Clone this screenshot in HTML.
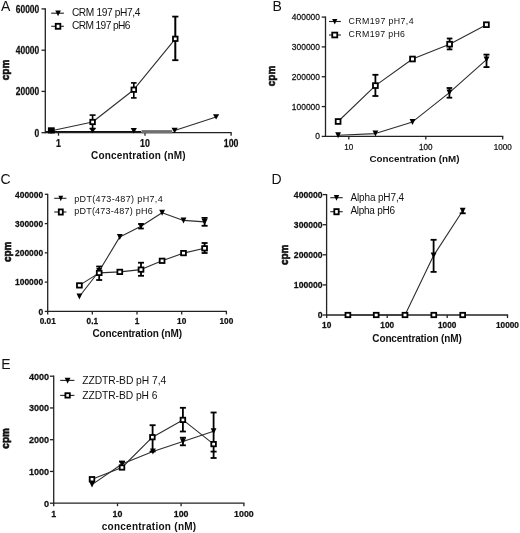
<!DOCTYPE html><html><head><meta charset="utf-8"><style>html,body{margin:0;padding:0;background:#fff;}svg{display:block;filter:grayscale(1);}text{font-family:"Liberation Sans", sans-serif;fill:#111;}</style></head><body>
<svg width="520" height="533" viewBox="0 0 520 533">
<rect width="520" height="533" fill="#fff"/>
<text x="1" y="10.7" font-size="14">A</text>
<line x1="45.3" y1="8.3" x2="45.3" y2="133.3" stroke="#222" stroke-width="1.3"/>
<line x1="41.5" y1="8.9" x2="45.3" y2="8.9" stroke="#222" stroke-width="1.3"/>
<text font-size="10" font-weight="bold" text-anchor="end" stroke="#111" stroke-width="0.25" transform="translate(39.25 12.80) scale(0.844 1)">60000</text>
<line x1="41.5" y1="50.2" x2="45.3" y2="50.2" stroke="#222" stroke-width="1.3"/>
<text font-size="10" font-weight="bold" text-anchor="end" stroke="#111" stroke-width="0.25" transform="translate(39.25 54.10) scale(0.844 1)">40000</text>
<line x1="41.5" y1="91.4" x2="45.3" y2="91.4" stroke="#222" stroke-width="1.3"/>
<text font-size="10" font-weight="bold" text-anchor="end" stroke="#111" stroke-width="0.25" transform="translate(39.25 95.30) scale(0.844 1)">20000</text>
<line x1="41.5" y1="132.7" x2="45.3" y2="132.7" stroke="#222" stroke-width="1.3"/>
<text font-size="10" font-weight="bold" text-anchor="end" stroke="#111" stroke-width="0.25" transform="translate(39.25 136.60) scale(0.851 1)">0</text>
<line x1="45.3" y1="131.9" x2="141" y2="131.9" stroke="#111" stroke-width="2"/>
<line x1="45.3" y1="132.7" x2="231.7" y2="132.7" stroke="#222" stroke-width="1.3"/>
<line x1="58.5" y1="132.7" x2="58.5" y2="135.7" stroke="#222" stroke-width="1.3"/>
<text font-size="10" font-weight="bold" text-anchor="middle" stroke="#111" stroke-width="0.25" transform="translate(58.5 147.00) scale(0.887 1)">1</text>
<line x1="145" y1="132.7" x2="145" y2="135.7" stroke="#222" stroke-width="1.3"/>
<text font-size="10" font-weight="bold" text-anchor="middle" stroke="#111" stroke-width="0.25" transform="translate(145 147.00) scale(0.882 1)">10</text>
<line x1="231.1" y1="132.7" x2="231.1" y2="135.7" stroke="#222" stroke-width="1.3"/>
<text font-size="10" font-weight="bold" text-anchor="middle" stroke="#111" stroke-width="0.25" transform="translate(231.1 147.00) scale(0.881 1)">100</text>
<rect x="141.5" y="130.1" width="30.7" height="3.2" fill="#707070"/>
<text x="91" y="158.8" font-size="10" font-weight="bold" textLength="94.5" lengthAdjust="spacing">Concentration (nM)</text>
<text x="9.2" y="70" font-size="10" font-weight="bold" text-anchor="middle" transform="rotate(-90 9.2 70)" stroke="#111" stroke-width="0.6">cpm</text>
<line x1="51.2" y1="13.2" x2="63.9" y2="13.2" stroke="#222" stroke-width="1.1"/>
<polygon points="55.25,10.60 60.85,10.60 58.05,16.20" fill="#000"/>
<text x="71.9" y="16.2" font-size="10.2" textLength="68.5" lengthAdjust="spacing">CRM 197 pH7,4</text>
<line x1="51.2" y1="26.3" x2="63.9" y2="26.3" stroke="#222" stroke-width="1.1"/>
<rect x="55.75" y="23.80" width="4.60" height="5.00" fill="#fff" stroke="#000" stroke-width="1.8"/>
<text x="71.9" y="29.1" font-size="10.2" textLength="58.5" lengthAdjust="spacing">CRM 197 pH6</text>
<polyline points="51.40,130.70 92.60,122.00 133.80,89.70 175.30,38.80" fill="none" stroke="#2e2e2e" stroke-width="1.1" stroke-linejoin="round"/>
<line x1="92.6" y1="115.1" x2="92.6" y2="128.5" stroke="#000" stroke-width="1.6"/>
<line x1="89.6" y1="115.1" x2="95.6" y2="115.1" stroke="#000" stroke-width="1.6"/>
<line x1="89.6" y1="128.5" x2="95.6" y2="128.5" stroke="#000" stroke-width="1.6"/>
<line x1="133.8" y1="82.9" x2="133.8" y2="97.9" stroke="#000" stroke-width="1.6"/>
<line x1="131" y1="82.9" x2="136.6" y2="82.9" stroke="#000" stroke-width="1.6"/>
<line x1="131" y1="97.9" x2="136.6" y2="97.9" stroke="#000" stroke-width="1.6"/>
<line x1="175.3" y1="16.6" x2="175.3" y2="60.2" stroke="#000" stroke-width="2"/>
<line x1="172.2" y1="16.6" x2="178.4" y2="16.6" stroke="#000" stroke-width="1.8"/>
<line x1="172.2" y1="60.2" x2="178.4" y2="60.2" stroke="#000" stroke-width="1.8"/>
<polyline points="174.60,130.50 216.10,116.90" fill="none" stroke="#2e2e2e" stroke-width="1.1" stroke-linejoin="round"/>
<polygon points="48.30,128.30 54.50,128.30 51.40,133.70" fill="#000"/>
<polygon points="89.50,127.90 95.70,127.90 92.60,133.30" fill="#000"/>
<polygon points="130.70,128.00 136.90,128.00 133.80,133.40" fill="#000"/>
<polygon points="171.50,127.80 177.70,127.80 174.60,133.20" fill="#000"/>
<polygon points="213.00,114.20 219.20,114.20 216.10,119.60" fill="#000"/>
<rect x="90.30" y="119.80" width="4.60" height="4.40" fill="#fff" stroke="#000" stroke-width="1.8"/>
<rect x="131.50" y="87.50" width="4.60" height="4.40" fill="#fff" stroke="#000" stroke-width="1.8"/>
<rect x="173.00" y="36.60" width="4.60" height="4.40" fill="#fff" stroke="#000" stroke-width="1.8"/>
<rect x="47.9" y="127.3" width="6.8" height="6.2" fill="#000"/>
<text x="272.6" y="10.7" font-size="14">B</text>
<line x1="325.5" y1="16.5" x2="325.5" y2="137" stroke="#222" stroke-width="1.3"/>
<line x1="321.7" y1="17.08" x2="325.5" y2="17.08" stroke="#222" stroke-width="1.3"/>
<text font-size="9" text-anchor="end" stroke="#111" stroke-width="0.25" transform="translate(319.95 20.08) scale(0.937 1)">400000</text>
<line x1="321.7" y1="46.91" x2="325.5" y2="46.91" stroke="#222" stroke-width="1.3"/>
<text font-size="9" text-anchor="end" stroke="#111" stroke-width="0.25" transform="translate(319.95 49.91) scale(0.937 1)">300000</text>
<line x1="321.7" y1="76.74" x2="325.5" y2="76.74" stroke="#222" stroke-width="1.3"/>
<text font-size="9" text-anchor="end" stroke="#111" stroke-width="0.25" transform="translate(319.95 79.74) scale(0.937 1)">200000</text>
<line x1="321.7" y1="106.57" x2="325.5" y2="106.57" stroke="#222" stroke-width="1.3"/>
<text font-size="9" text-anchor="end" stroke="#111" stroke-width="0.25" transform="translate(319.95 109.57) scale(0.937 1)">100000</text>
<line x1="321.7" y1="136.4" x2="325.5" y2="136.4" stroke="#222" stroke-width="1.3"/>
<text font-size="9" text-anchor="end" stroke="#111" stroke-width="0.25" transform="translate(319.95 139.40) scale(0.945 1)">0</text>
<line x1="325.5" y1="136.4" x2="503.3" y2="136.4" stroke="#222" stroke-width="1.3"/>
<line x1="348.8" y1="136.4" x2="348.8" y2="139.4" stroke="#222" stroke-width="1.3"/>
<text font-size="9" text-anchor="middle" stroke="#111" stroke-width="0.25" transform="translate(348.8 149.50) scale(0.900 1)">10</text>
<line x1="425.8" y1="136.4" x2="425.8" y2="139.4" stroke="#222" stroke-width="1.3"/>
<text font-size="9" text-anchor="middle" stroke="#111" stroke-width="0.25" transform="translate(425.8 149.50) scale(0.899 1)">100</text>
<line x1="502.7" y1="136.4" x2="502.7" y2="139.4" stroke="#222" stroke-width="1.3"/>
<text font-size="9" text-anchor="middle" stroke="#111" stroke-width="0.25" transform="translate(502.7 149.50) scale(0.898 1)">1000</text>
<text x="369.5" y="162.2" font-size="9.8" font-weight="bold" textLength="90" lengthAdjust="spacing">Concentration (nM)</text>
<text x="274.6" y="76" font-size="10" font-weight="bold" text-anchor="middle" transform="rotate(-90 274.6 76)" stroke="#111" stroke-width="0.6">cpm</text>
<line x1="329" y1="21.5" x2="340.9" y2="21.5" stroke="#222" stroke-width="1.1"/>
<polygon points="332.15,19.00 337.35,19.00 334.75,24.40" fill="#000"/>
<text x="348.6" y="23.8" font-size="8.8" textLength="65" lengthAdjust="spacing">CRM197 pH7,4</text>
<line x1="329" y1="35" x2="340.9" y2="35" stroke="#222" stroke-width="1.1"/>
<rect x="332.25" y="32.60" width="5.00" height="4.80" fill="#fff" stroke="#000" stroke-width="1.8"/>
<text x="348.6" y="36.8" font-size="8.8" textLength="56.4" lengthAdjust="spacing">CRM197 pH6</text>
<polyline points="338.10,121.50 375.40,85.60 412.50,59.00 449.60,44.20 486.40,24.70" fill="none" stroke="#2e2e2e" stroke-width="1.1" stroke-linejoin="round"/>
<polyline points="338.10,135.20 375.40,133.60 412.50,121.90 449.40,92.60 486.50,59.60" fill="none" stroke="#2e2e2e" stroke-width="1.1" stroke-linejoin="round"/>
<line x1="375.4" y1="74.8" x2="375.4" y2="96" stroke="#000" stroke-width="1.8"/>
<line x1="372.4" y1="74.8" x2="378.4" y2="74.8" stroke="#000" stroke-width="1.8"/>
<line x1="372.4" y1="96" x2="378.4" y2="96" stroke="#000" stroke-width="1.8"/>
<line x1="449.6" y1="38.5" x2="449.6" y2="49.4" stroke="#000" stroke-width="1.8"/>
<line x1="446.8" y1="38.5" x2="452.4" y2="38.5" stroke="#000" stroke-width="1.8"/>
<line x1="446.8" y1="49.4" x2="452.4" y2="49.4" stroke="#000" stroke-width="1.8"/>
<line x1="449.4" y1="88" x2="449.4" y2="97.7" stroke="#000" stroke-width="1.8"/>
<line x1="446.6" y1="88" x2="452.2" y2="88" stroke="#000" stroke-width="1.8"/>
<line x1="446.6" y1="97.7" x2="452.2" y2="97.7" stroke="#000" stroke-width="1.8"/>
<line x1="486.5" y1="54.6" x2="486.5" y2="67.1" stroke="#000" stroke-width="1.8"/>
<line x1="483.5" y1="54.6" x2="489.5" y2="54.6" stroke="#000" stroke-width="1.8"/>
<line x1="483.5" y1="67.1" x2="489.5" y2="67.1" stroke="#000" stroke-width="1.8"/>
<polygon points="335.20,132.20 341.00,132.20 338.10,138.20" fill="#000"/>
<polygon points="372.50,130.60 378.30,130.60 375.40,136.60" fill="#000"/>
<polygon points="409.60,118.90 415.40,118.90 412.50,124.90" fill="#000"/>
<polygon points="446.50,89.60 452.30,89.60 449.40,95.60" fill="#000"/>
<polygon points="483.60,56.60 489.40,56.60 486.50,62.60" fill="#000"/>
<rect x="335.70" y="119.10" width="4.80" height="4.80" fill="#fff" stroke="#000" stroke-width="1.8"/>
<rect x="373.00" y="83.20" width="4.80" height="4.80" fill="#fff" stroke="#000" stroke-width="1.8"/>
<rect x="410.10" y="56.60" width="4.80" height="4.80" fill="#fff" stroke="#000" stroke-width="1.8"/>
<rect x="447.20" y="41.80" width="4.80" height="4.80" fill="#fff" stroke="#000" stroke-width="1.8"/>
<rect x="484.00" y="22.30" width="4.80" height="4.80" fill="#fff" stroke="#000" stroke-width="1.8"/>
<text x="0.4" y="183.9" font-size="14">C</text>
<line x1="47.7" y1="193.7" x2="47.7" y2="312" stroke="#222" stroke-width="1.3"/>
<line x1="44.8" y1="194.32" x2="47.7" y2="194.32" stroke="#222" stroke-width="1.3"/>
<text font-size="9" font-weight="bold" text-anchor="end" stroke="#111" stroke-width="0.25" transform="translate(43.15 197.54) scale(0.937 1)">400000</text>
<line x1="44.8" y1="223.59" x2="47.7" y2="223.59" stroke="#222" stroke-width="1.3"/>
<text font-size="9" font-weight="bold" text-anchor="end" stroke="#111" stroke-width="0.25" transform="translate(43.15 226.81) scale(0.937 1)">300000</text>
<line x1="44.8" y1="252.86" x2="47.7" y2="252.86" stroke="#222" stroke-width="1.3"/>
<text font-size="9" font-weight="bold" text-anchor="end" stroke="#111" stroke-width="0.25" transform="translate(43.15 256.08) scale(0.937 1)">200000</text>
<line x1="44.8" y1="282.13" x2="47.7" y2="282.13" stroke="#222" stroke-width="1.3"/>
<text font-size="9" font-weight="bold" text-anchor="end" stroke="#111" stroke-width="0.25" transform="translate(43.15 285.35) scale(0.937 1)">100000</text>
<line x1="44.8" y1="311.4" x2="47.7" y2="311.4" stroke="#222" stroke-width="1.3"/>
<text font-size="9" font-weight="bold" text-anchor="end" stroke="#111" stroke-width="0.25" transform="translate(43.15 314.62) scale(0.945 1)">0</text>
<line x1="47.7" y1="311.4" x2="227" y2="311.4" stroke="#222" stroke-width="1.3"/>
<line x1="47.7" y1="311.4" x2="47.7" y2="314.4" stroke="#222" stroke-width="1.3"/>
<text font-size="8.6" font-weight="bold" text-anchor="middle" stroke="#111" stroke-width="0.25" transform="translate(47.7 323.90) scale(0.961 1)">0.01</text>
<line x1="92.3" y1="311.4" x2="92.3" y2="314.4" stroke="#222" stroke-width="1.3"/>
<text font-size="8.6" font-weight="bold" text-anchor="middle" stroke="#111" stroke-width="0.25" transform="translate(92.3 323.90) scale(0.962 1)">0.1</text>
<line x1="137" y1="311.4" x2="137" y2="314.4" stroke="#222" stroke-width="1.3"/>
<text font-size="8.6" font-weight="bold" text-anchor="middle" stroke="#111" stroke-width="0.25" transform="translate(137 323.90) scale(0.968 1)">1</text>
<line x1="181.7" y1="311.4" x2="181.7" y2="314.4" stroke="#222" stroke-width="1.3"/>
<text font-size="8.6" font-weight="bold" text-anchor="middle" stroke="#111" stroke-width="0.25" transform="translate(181.7 323.90) scale(0.963 1)">10</text>
<line x1="226.4" y1="311.4" x2="226.4" y2="314.4" stroke="#222" stroke-width="1.3"/>
<text font-size="8.6" font-weight="bold" text-anchor="middle" stroke="#111" stroke-width="0.25" transform="translate(226.4 323.90) scale(0.961 1)">100</text>
<text x="92.5" y="336.8" font-size="10" font-weight="bold" textLength="89.5" lengthAdjust="spacing">Concentration (nM)</text>
<text x="11" y="251.8" font-size="10" font-weight="bold" text-anchor="middle" transform="rotate(-90 11 251.8)" stroke="#111" stroke-width="0.6">cpm</text>
<line x1="54.2" y1="198.3" x2="66.4" y2="198.3" stroke="#222" stroke-width="1.1"/>
<polygon points="58.40,195.70 63.20,195.70 60.80,201.30" fill="#000"/>
<text x="74.2" y="201.6" font-size="9" textLength="88.5" lengthAdjust="spacing">pDT(473-487) pH7,4</text>
<line x1="54.2" y1="212" x2="66.4" y2="212" stroke="#222" stroke-width="1.1"/>
<rect x="58.80" y="209.40" width="4.00" height="5.20" fill="#fff" stroke="#000" stroke-width="1.8"/>
<text x="74.2" y="214.3" font-size="9" textLength="78.5" lengthAdjust="spacing">pDT(473-487) pH6</text>
<polyline points="79.40,285.40 99.20,272.90 119.80,271.90 141.00,269.60 162.10,260.80 183.50,253.10 204.60,248.30" fill="none" stroke="#2e2e2e" stroke-width="1.1" stroke-linejoin="round"/>
<polyline points="79.40,296.50 99.20,271.00 119.80,236.90 141.00,226.20 162.10,212.70 183.50,220.40 204.60,221.90" fill="none" stroke="#2e2e2e" stroke-width="1.1" stroke-linejoin="round"/>
<line x1="99.2" y1="266.5" x2="99.2" y2="280" stroke="#000" stroke-width="1.8"/>
<line x1="96.2" y1="266.5" x2="102.2" y2="266.5" stroke="#000" stroke-width="1.8"/>
<line x1="96.2" y1="280" x2="102.2" y2="280" stroke="#000" stroke-width="1.8"/>
<line x1="141" y1="262.7" x2="141" y2="275.8" stroke="#000" stroke-width="1.8"/>
<line x1="138" y1="262.7" x2="144" y2="262.7" stroke="#000" stroke-width="1.8"/>
<line x1="138" y1="275.8" x2="144" y2="275.8" stroke="#000" stroke-width="1.8"/>
<line x1="141" y1="224" x2="141" y2="228.5" stroke="#000" stroke-width="1.8"/>
<line x1="138.2" y1="224" x2="143.8" y2="224" stroke="#000" stroke-width="1.8"/>
<line x1="138.2" y1="228.5" x2="143.8" y2="228.5" stroke="#000" stroke-width="1.8"/>
<line x1="204.6" y1="217.9" x2="204.6" y2="225.8" stroke="#000" stroke-width="1.8"/>
<line x1="201.6" y1="217.9" x2="207.6" y2="217.9" stroke="#000" stroke-width="1.8"/>
<line x1="201.6" y1="225.8" x2="207.6" y2="225.8" stroke="#000" stroke-width="1.8"/>
<line x1="204.6" y1="243" x2="204.6" y2="253" stroke="#000" stroke-width="1.8"/>
<line x1="201.6" y1="243" x2="207.6" y2="243" stroke="#000" stroke-width="1.8"/>
<line x1="201.6" y1="253" x2="207.6" y2="253" stroke="#000" stroke-width="1.8"/>
<polygon points="76.50,293.50 82.30,293.50 79.40,299.50" fill="#000"/>
<polygon points="96.30,268.00 102.10,268.00 99.20,274.00" fill="#000"/>
<polygon points="116.90,233.90 122.70,233.90 119.80,239.90" fill="#000"/>
<polygon points="138.10,223.20 143.90,223.20 141.00,229.20" fill="#000"/>
<polygon points="159.20,209.70 165.00,209.70 162.10,215.70" fill="#000"/>
<polygon points="180.60,217.40 186.40,217.40 183.50,223.40" fill="#000"/>
<polygon points="201.70,218.90 207.50,218.90 204.60,224.90" fill="#000"/>
<rect x="77.00" y="283.20" width="4.80" height="4.40" fill="#fff" stroke="#000" stroke-width="1.8"/>
<rect x="96.80" y="270.70" width="4.80" height="4.40" fill="#fff" stroke="#000" stroke-width="1.8"/>
<rect x="117.40" y="269.70" width="4.80" height="4.40" fill="#fff" stroke="#000" stroke-width="1.8"/>
<rect x="138.60" y="267.40" width="4.80" height="4.40" fill="#fff" stroke="#000" stroke-width="1.8"/>
<rect x="159.70" y="258.60" width="4.80" height="4.40" fill="#fff" stroke="#000" stroke-width="1.8"/>
<rect x="181.10" y="250.90" width="4.80" height="4.40" fill="#fff" stroke="#000" stroke-width="1.8"/>
<rect x="202.20" y="246.10" width="4.80" height="4.40" fill="#fff" stroke="#000" stroke-width="1.8"/>
<text x="271.6" y="183.9" font-size="14">D</text>
<line x1="326.6" y1="194" x2="326.6" y2="315.6" stroke="#222" stroke-width="1.3"/>
<line x1="322.8" y1="194.6" x2="326.6" y2="194.6" stroke="#222" stroke-width="1.3"/>
<text font-size="8.8" font-weight="bold" text-anchor="end" stroke="#111" stroke-width="0.25" transform="translate(322.55 197.75) scale(0.979 1)">400000</text>
<line x1="322.8" y1="224.7" x2="326.6" y2="224.7" stroke="#222" stroke-width="1.3"/>
<text font-size="8.8" font-weight="bold" text-anchor="end" stroke="#111" stroke-width="0.25" transform="translate(322.55 227.85) scale(0.979 1)">300000</text>
<line x1="322.8" y1="254.8" x2="326.6" y2="254.8" stroke="#222" stroke-width="1.3"/>
<text font-size="8.8" font-weight="bold" text-anchor="end" stroke="#111" stroke-width="0.25" transform="translate(322.55 257.95) scale(0.979 1)">200000</text>
<line x1="322.8" y1="284.9" x2="326.6" y2="284.9" stroke="#222" stroke-width="1.3"/>
<text font-size="8.8" font-weight="bold" text-anchor="end" stroke="#111" stroke-width="0.25" transform="translate(322.55 288.05) scale(0.979 1)">100000</text>
<line x1="322.8" y1="315" x2="326.6" y2="315" stroke="#222" stroke-width="1.3"/>
<text font-size="8.8" font-weight="bold" text-anchor="end" stroke="#111" stroke-width="0.25" transform="translate(322.55 318.15) scale(0.987 1)">0</text>
<line x1="326.6" y1="315" x2="508.1" y2="315" stroke="#222" stroke-width="1.3"/>
<line x1="326.7" y1="315" x2="326.7" y2="318" stroke="#222" stroke-width="1.3"/>
<text font-size="8.8" font-weight="bold" text-anchor="middle" stroke="#111" stroke-width="0.25" transform="translate(326.7 327.90) scale(0.941 1)">10</text>
<line x1="387.2" y1="315" x2="387.2" y2="318" stroke="#222" stroke-width="1.3"/>
<text font-size="8.8" font-weight="bold" text-anchor="middle" stroke="#111" stroke-width="0.25" transform="translate(387.2 327.90) scale(0.939 1)">100</text>
<line x1="447.2" y1="315" x2="447.2" y2="318" stroke="#222" stroke-width="1.3"/>
<text font-size="8.8" font-weight="bold" text-anchor="middle" stroke="#111" stroke-width="0.25" transform="translate(447.2 327.90) scale(0.939 1)">1000</text>
<line x1="507.5" y1="315" x2="507.5" y2="318" stroke="#222" stroke-width="1.3"/>
<text font-size="8.8" font-weight="bold" text-anchor="middle" stroke="#111" stroke-width="0.25" transform="translate(507.5 327.90) scale(0.938 1)">10000</text>
<text x="372.3" y="341.7" font-size="10" font-weight="bold" textLength="89.5" lengthAdjust="spacing">Concentration (nM)</text>
<text x="288.2" y="254.8" font-size="10" font-weight="bold" text-anchor="middle" transform="rotate(-90 288.2 254.8)" stroke="#111" stroke-width="0.6">cpm</text>
<line x1="330.3" y1="197.7" x2="342.7" y2="197.7" stroke="#222" stroke-width="1.1"/>
<polygon points="333.80,195.10 339.20,195.10 336.50,200.70" fill="#000"/>
<text x="350.4" y="200.8" font-size="10" textLength="53.7" lengthAdjust="spacing">Alpha pH7,4</text>
<line x1="330.3" y1="211.7" x2="342.7" y2="211.7" stroke="#222" stroke-width="1.1"/>
<rect x="334.30" y="209.10" width="4.40" height="5.20" fill="#fff" stroke="#000" stroke-width="1.8"/>
<text x="350.4" y="214.2" font-size="10" textLength="44.6" lengthAdjust="spacing">Alpha pH6</text>
<polyline points="347.90,315.00 376.20,315.00 405.00,315.00 433.60,255.60 462.70,210.80" fill="none" stroke="#2e2e2e" stroke-width="1.1" stroke-linejoin="round"/>
<line x1="433.6" y1="239.8" x2="433.6" y2="271.9" stroke="#000" stroke-width="1.8"/>
<line x1="430.6" y1="239.8" x2="436.6" y2="239.8" stroke="#000" stroke-width="1.8"/>
<line x1="430.6" y1="271.9" x2="436.6" y2="271.9" stroke="#000" stroke-width="1.8"/>
<line x1="462.7" y1="210" x2="462.7" y2="213.3" stroke="#000" stroke-width="1.8"/>
<line x1="459.7" y1="213.3" x2="465.7" y2="213.3" stroke="#000" stroke-width="1.8"/>
<polygon points="345.00,312.00 350.80,312.00 347.90,318.00" fill="#000"/>
<polygon points="373.30,312.00 379.10,312.00 376.20,318.00" fill="#000"/>
<polygon points="402.10,312.00 407.90,312.00 405.00,318.00" fill="#000"/>
<polygon points="430.70,252.60 436.50,252.60 433.60,258.60" fill="#000"/>
<polygon points="459.80,207.80 465.60,207.80 462.70,213.80" fill="#000"/>
<rect x="345.50" y="312.80" width="4.80" height="4.40" fill="#fff" stroke="#000" stroke-width="1.8"/>
<rect x="373.80" y="312.80" width="4.80" height="4.40" fill="#fff" stroke="#000" stroke-width="1.8"/>
<rect x="402.60" y="312.80" width="4.80" height="4.40" fill="#fff" stroke="#000" stroke-width="1.8"/>
<rect x="431.40" y="312.80" width="4.80" height="4.40" fill="#fff" stroke="#000" stroke-width="1.8"/>
<rect x="460.30" y="312.80" width="4.80" height="4.40" fill="#fff" stroke="#000" stroke-width="1.8"/>
<text x="1.3" y="368.8" font-size="14">E</text>
<line x1="53.7" y1="375.6" x2="53.7" y2="503.8" stroke="#222" stroke-width="1.3"/>
<line x1="49.9" y1="376.2" x2="53.7" y2="376.2" stroke="#222" stroke-width="1.3"/>
<text font-size="9.6" font-weight="bold" text-anchor="end" stroke="#111" stroke-width="0.25" transform="translate(49.15 379.64) scale(0.945 1)">4000</text>
<line x1="49.9" y1="407.95" x2="53.7" y2="407.95" stroke="#222" stroke-width="1.3"/>
<text font-size="9.6" font-weight="bold" text-anchor="end" stroke="#111" stroke-width="0.25" transform="translate(49.15 411.39) scale(0.945 1)">3000</text>
<line x1="49.9" y1="439.7" x2="53.7" y2="439.7" stroke="#222" stroke-width="1.3"/>
<text font-size="9.6" font-weight="bold" text-anchor="end" stroke="#111" stroke-width="0.25" transform="translate(49.15 443.14) scale(0.945 1)">2000</text>
<line x1="49.9" y1="471.45" x2="53.7" y2="471.45" stroke="#222" stroke-width="1.3"/>
<text font-size="9.6" font-weight="bold" text-anchor="end" stroke="#111" stroke-width="0.25" transform="translate(49.15 474.89) scale(0.945 1)">1000</text>
<line x1="49.9" y1="503.2" x2="53.7" y2="503.2" stroke="#222" stroke-width="1.3"/>
<text font-size="9.6" font-weight="bold" text-anchor="end" stroke="#111" stroke-width="0.25" transform="translate(49.15 506.64) scale(0.952 1)">0</text>
<line x1="53.7" y1="503.2" x2="244.5" y2="503.2" stroke="#222" stroke-width="1.3"/>
<line x1="53.7" y1="503.2" x2="53.7" y2="506.2" stroke="#222" stroke-width="1.3"/>
<text font-size="9.4" font-weight="bold" text-anchor="middle" stroke="#111" stroke-width="0.25" transform="translate(53.7 516.80) scale(0.943 1)">1</text>
<line x1="117.5" y1="503.2" x2="117.5" y2="506.2" stroke="#222" stroke-width="1.3"/>
<text font-size="9.4" font-weight="bold" text-anchor="middle" stroke="#111" stroke-width="0.25" transform="translate(117.5 516.80) scale(0.939 1)">10</text>
<line x1="181.1" y1="503.2" x2="181.1" y2="506.2" stroke="#222" stroke-width="1.3"/>
<text font-size="9.4" font-weight="bold" text-anchor="middle" stroke="#111" stroke-width="0.25" transform="translate(181.1 516.80) scale(0.937 1)">100</text>
<line x1="243.9" y1="503.2" x2="243.9" y2="506.2" stroke="#222" stroke-width="1.3"/>
<text font-size="9.4" font-weight="bold" text-anchor="middle" stroke="#111" stroke-width="0.25" transform="translate(243.9 516.80) scale(0.936 1)">1000</text>
<text x="101.7" y="530" font-size="10" font-weight="bold" textLength="94.5" lengthAdjust="spacing">concentration (nM)</text>
<text x="8.7" y="438.4" font-size="10" font-weight="bold" text-anchor="middle" transform="rotate(-90 8.7 438.4)" stroke="#111" stroke-width="0.6">cpm</text>
<line x1="60.2" y1="380.4" x2="74.4" y2="380.4" stroke="#222" stroke-width="1.1"/>
<polygon points="64.70,377.80 70.50,377.80 67.60,383.40" fill="#000"/>
<text x="82.2" y="384.3" font-size="10.3" textLength="84" lengthAdjust="spacing">ZZDTR-BD pH 7,4</text>
<line x1="60.2" y1="395.4" x2="74.4" y2="395.4" stroke="#222" stroke-width="1.1"/>
<rect x="65.40" y="393.20" width="4.40" height="4.40" fill="#fff" stroke="#000" stroke-width="1.8"/>
<text x="82.2" y="398.8" font-size="10.3" textLength="75.3" lengthAdjust="spacing">ZZDTR-BD pH 6</text>
<polyline points="92.00,479.20 122.00,467.50 152.40,437.20 182.90,419.90 213.60,444.10" fill="none" stroke="#2e2e2e" stroke-width="1.1" stroke-linejoin="round"/>
<polyline points="92.00,484.60 122.00,464.00 152.90,451.60 182.90,441.50 213.60,431.20" fill="none" stroke="#2e2e2e" stroke-width="1.1" stroke-linejoin="round"/>
<line x1="122" y1="461.5" x2="122" y2="467" stroke="#000" stroke-width="1.8"/>
<line x1="119" y1="461.5" x2="125" y2="461.5" stroke="#000" stroke-width="1.8"/>
<line x1="119" y1="467" x2="125" y2="467" stroke="#000" stroke-width="1.8"/>
<line x1="152.6" y1="425.2" x2="152.6" y2="451.5" stroke="#000" stroke-width="1.8"/>
<line x1="149.6" y1="425.2" x2="155.6" y2="425.2" stroke="#000" stroke-width="1.8"/>
<line x1="149.6" y1="451.5" x2="155.6" y2="451.5" stroke="#000" stroke-width="1.8"/>
<line x1="182.9" y1="407.8" x2="182.9" y2="431.5" stroke="#000" stroke-width="1.8"/>
<line x1="179.9" y1="407.8" x2="185.9" y2="407.8" stroke="#000" stroke-width="1.8"/>
<line x1="179.9" y1="431.5" x2="185.9" y2="431.5" stroke="#000" stroke-width="1.8"/>
<line x1="182.9" y1="437.7" x2="182.9" y2="445.3" stroke="#000" stroke-width="1.8"/>
<line x1="179.9" y1="437.7" x2="185.9" y2="437.7" stroke="#000" stroke-width="1.8"/>
<line x1="179.9" y1="445.3" x2="185.9" y2="445.3" stroke="#000" stroke-width="1.8"/>
<line x1="213.6" y1="412.5" x2="213.6" y2="458" stroke="#000" stroke-width="1.8"/>
<line x1="210.6" y1="412.5" x2="216.6" y2="412.5" stroke="#000" stroke-width="1.8"/>
<line x1="210.6" y1="458" x2="216.6" y2="458" stroke="#000" stroke-width="1.8"/>
<line x1="210.6" y1="451.6" x2="216.6" y2="451.6" stroke="#000" stroke-width="1.8"/>
<polygon points="89.10,481.60 94.90,481.60 92.00,487.60" fill="#000"/>
<polygon points="119.10,461.00 124.90,461.00 122.00,467.00" fill="#000"/>
<polygon points="150.00,448.60 155.80,448.60 152.90,454.60" fill="#000"/>
<polygon points="180.00,438.50 185.80,438.50 182.90,444.50" fill="#000"/>
<polygon points="210.70,428.20 216.50,428.20 213.60,434.20" fill="#000"/>
<rect x="89.70" y="477.00" width="4.60" height="4.40" fill="#fff" stroke="#000" stroke-width="1.8"/>
<rect x="119.70" y="465.30" width="4.60" height="4.40" fill="#fff" stroke="#000" stroke-width="1.8"/>
<rect x="150.10" y="435.00" width="4.60" height="4.40" fill="#fff" stroke="#000" stroke-width="1.8"/>
<rect x="180.60" y="417.70" width="4.60" height="4.40" fill="#fff" stroke="#000" stroke-width="1.8"/>
<rect x="211.30" y="441.90" width="4.60" height="4.40" fill="#fff" stroke="#000" stroke-width="1.8"/>
</svg></body></html>
